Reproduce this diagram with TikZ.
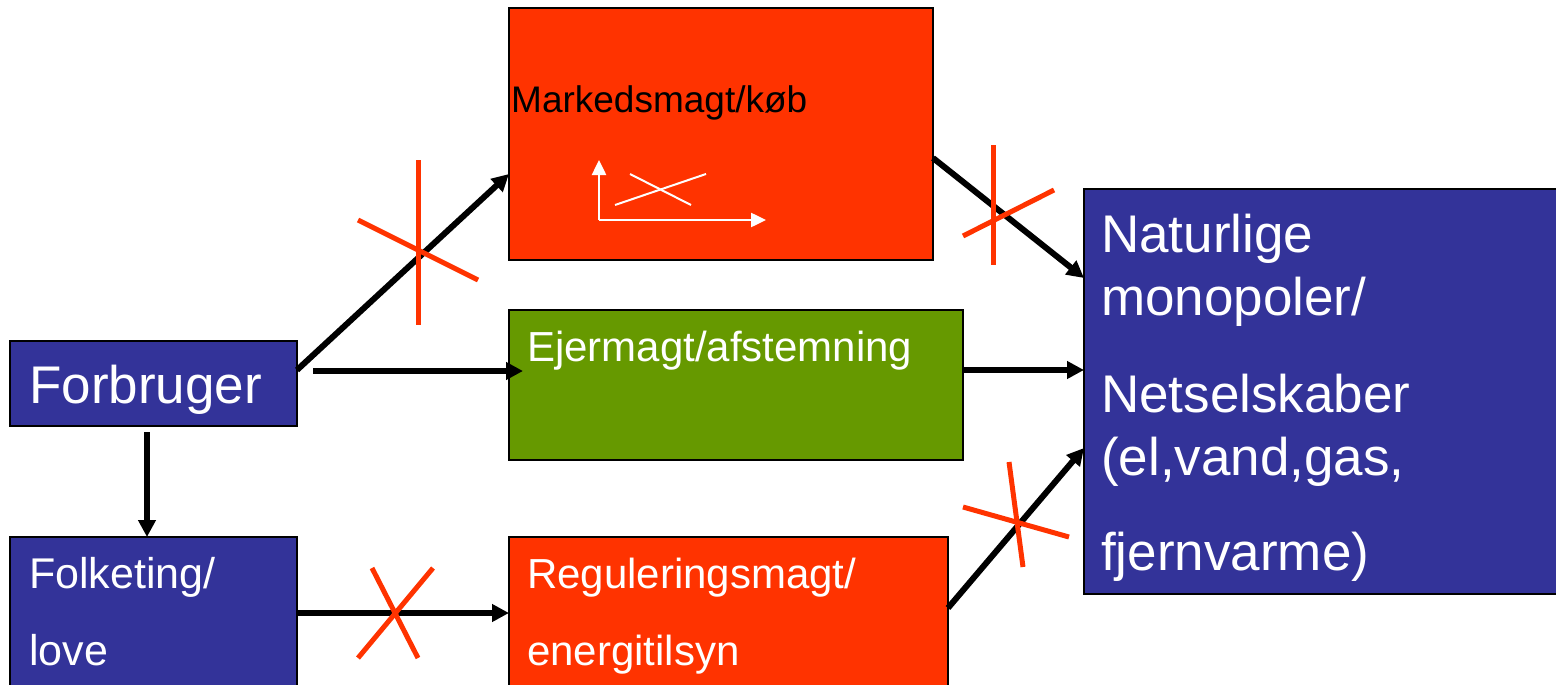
\documentclass[tikz,border=0pt]{standalone}
\usepackage{fontspec}
\setmainfont{Liberation Sans}
\usetikzlibrary{arrows.meta,calc}
\definecolor{boxblue}{HTML}{333399}
\definecolor{boxred}{HTML}{FF3300}
\definecolor{boxgreen}{HTML}{669900}
\begin{document}
\begin{tikzpicture}[x=1pt,y=-1pt,
  box/.style={draw=black,line width=1.5pt,inner sep=0pt,outer sep=0pt,anchor=north west},
  lbl/.style={inner sep=0pt,anchor=base west,text=white},
  conn/.style={line width=6pt,-{Triangle[length=17pt,width=17pt]}},
  veto/.style={draw=boxred,line width=5pt},
  axis/.style={draw=white,line width=2.5pt,-{Triangle[length=15pt,width=14pt]}},
  thinw/.style={draw=white,line width=2pt}]
\useasboundingbox (0,0) rectangle (1556,685);
\clip (0,0) rectangle (1556,685);
% boxes
\node[box,fill=boxblue,minimum width=287pt,minimum height=85pt] (forb) at (10,341) {};
\node[box,fill=boxblue,minimum width=287pt,minimum height=160pt] (folk) at (10,537) {};
\node[box,fill=boxred,minimum width=424pt,minimum height=252pt] (mark) at (509,8) {};
\node[box,fill=boxgreen,minimum width=454pt,minimum height=150pt] (ejer) at (509,310) {};
\node[box,fill=boxred,minimum width=439pt,minimum height=160pt] (reg) at (509,537) {};
\node[box,fill=boxblue,minimum width=490pt,minimum height=405pt] (nat) at (1084,189) {};
% texts
\node[lbl,font=\fontsize{53pt}{60pt}\selectfont] (tforb) at (29,403) {Forbruger};
\node[lbl,font=\fontsize{43pt}{50pt}\selectfont] (tfolk1) at (29,588) {Folketing/};
\node[lbl,font=\fontsize{43pt}{50pt}\selectfont] (tfolk2) at (29,665) {love};
\node[lbl,text=black,font=\fontsize{37pt}{42pt}\selectfont] (tmark) at (511,113) {Markedsmagt/køb};
\node[lbl,font=\fontsize{42pt}{48pt}\selectfont] (tejer) at (527,361) {Ejermagt/afstemning};
\node[lbl,font=\fontsize{42pt}{48pt}\selectfont] (treg1) at (527,588) {Reguleringsmagt/};
\node[lbl,font=\fontsize{42pt}{48pt}\selectfont] (treg2) at (527,665) {energitilsyn};
\node[lbl,font=\fontsize{53pt}{60pt}\selectfont] (tnat1) at (1101,252) {Naturlige};
\node[lbl,font=\fontsize{53pt}{60pt}\selectfont] (tnat2) at (1101,315) {monopoler/};
\node[lbl,font=\fontsize{53pt}{60pt}\selectfont] (tnat3) at (1101,412) {Netselskaber};
\node[lbl,font=\fontsize{53pt}{60pt}\selectfont] (tnat4) at (1101,475) {(el,vand,gas,};
\node[lbl,font=\fontsize{53pt}{60pt}\selectfont] (tnat5) at (1101,570) {fjernvarme)};
% small graph inside Markedsmagt
\coordinate (gorig) at (599,220);
\coordinate (gy) at (599,160);
\coordinate (gx) at (766,220);
\draw[axis] (gorig) -- (gy);
\draw[axis] (gorig) -- (gx);
\coordinate (c1a) at (615,205); \coordinate (c1b) at (706,174);
\coordinate (c2a) at (630,174); \coordinate (c2b) at (691,205);
\draw[thinw] (c1a) -- (c1b);
\draw[thinw] (c2a) -- (c2b);
% connectors
\draw[conn] ([yshift=-29pt]forb.north east) -- ([yshift=-40pt]mark.west);
\draw[conn] ([xshift=16pt,yshift=12.5pt]forb.east) -- ([xshift=14pt,yshift=14pt]ejer.west);
\draw[conn] ([xshift=-6.5pt,yshift=-6pt]forb.south) -- ([xshift=-6.5pt]folk.north);
\draw[conn] ([yshift=-76pt]folk.north east) -- ([yshift=-76pt]reg.north west);
\draw[conn] ([yshift=-150pt]mark.north east) -- ([yshift=-89pt]nat.north west);
\draw[conn] ([yshift=15pt]ejer.east) -- ([yshift=21.5pt]nat.west);
\draw[conn] ([yshift=-71pt]reg.north east) -- ([yshift=-56.5pt]nat.west);
% veto crosses
\coordinate (x1a) at (418,160); \coordinate (x1b) at (418,325);
\coordinate (x1c) at (358,220); \coordinate (x1d) at (478,280);
\draw[veto] (x1a) -- (x1b); \draw[veto] (x1c) -- (x1d);
\coordinate (x2a) at (993,145); \coordinate (x2b) at (993,265);
\coordinate (x2c) at (963,236); \coordinate (x2d) at (1054,190);
\draw[veto] (x2a) -- (x2b); \draw[veto] (x2c) -- (x2d);
\coordinate (x3a) at (1009,462); \coordinate (x3b) at (1023,567);
\coordinate (x3c) at (963,507); \coordinate (x3d) at (1069,537);
\draw[veto] (x3a) -- (x3b); \draw[veto] (x3c) -- (x3d);
\coordinate (x4a) at (372,568); \coordinate (x4b) at (418,658);
\coordinate (x4c) at (433,568); \coordinate (x4d) at (358,658);
\draw[veto] (x4a) -- (x4b); \draw[veto] (x4c) -- (x4d);
\end{tikzpicture}
\end{document}
